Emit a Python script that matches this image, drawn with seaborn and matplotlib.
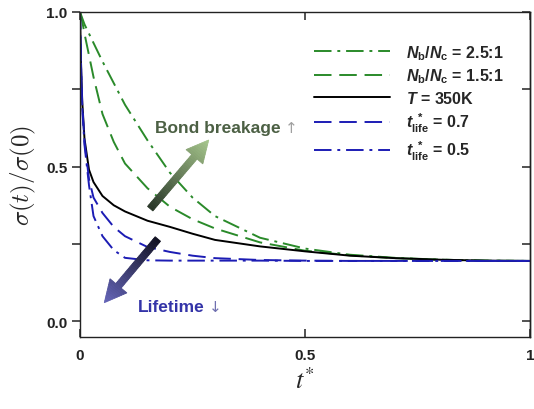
import numpy as np
import pandas as pd
import matplotlib
matplotlib.use("Agg")
import matplotlib.pyplot as plt
import seaborn as sns
from matplotlib.patches import Polygon
from matplotlib.transforms import IdentityTransform
from matplotlib.font_manager import FontProperties
from matplotlib.lines import Line2D

# ---------------- data ----------------
t_star = [0, 0.0025, 0.005, 0.01, 0.02, 0.03, 0.05, 0.075, 0.1, 0.15,
          0.2, 0.25, 0.3, 0.4, 0.5, 0.6, 0.7, 0.8, 0.9, 1.0]
ratio_25 = [1.0, 0.99, 0.98, 0.96, 0.93, 0.90, 0.84, 0.77, 0.70, 0.585,
            0.48, 0.40, 0.34, 0.27, 0.235, 0.215, 0.205, 0.199, 0.196, 0.195]
ratio_15 = [1.0, 0.985, 0.97, 0.93, 0.86, 0.79, 0.67, 0.58, 0.51, 0.43,
            0.37, 0.33, 0.30, 0.255, 0.228, 0.213, 0.204, 0.199, 0.196, 0.195]
temp_350 = [1.0, 0.82, 0.71, 0.59, 0.49, 0.45, 0.405, 0.375, 0.355, 0.325,
            0.305, 0.283, 0.263, 0.242, 0.226, 0.212, 0.204, 0.199, 0.196, 0.195]
life_07 = [1.0, 0.82, 0.70, 0.58, 0.46, 0.40, 0.35, 0.305, 0.275, 0.24,
           0.224, 0.212, 0.204, 0.198, 0.196, 0.195, 0.195, 0.195, 0.195, 0.195]
life_05 = [1.0, 0.81, 0.69, 0.57, 0.44, 0.34, 0.275, 0.23, 0.205, 0.197,
           0.196, 0.196, 0.196, 0.196, 0.195, 0.195, 0.195, 0.195, 0.195, 0.195]

labels = [r"$N_\mathrm{b}/N_\mathrm{c}$ = 2.5:1",
          r"$N_\mathrm{b}/N_\mathrm{c}$ = 1.5:1",
          r"$T$ = 350K",
          r"$t_\mathrm{life}^{\ *}$ = 0.7",
          r"$t_\mathrm{life}^{\ *}$ = 0.5"]

GREEN = "#2a8a2a"
BLUE = "#1c1cb4"
series = [
    (ratio_25, GREEN, (0, (9, 3, 1.5, 3))),
    (ratio_15, GREEN, (0, (9, 4))),
    (temp_350, "black", "-"),
    (life_07, BLUE, (0, (9, 4))),
    (life_05, BLUE, (0, (9, 3, 1.5, 3))),
]

# ---------------- style ----------------
sns.set_style("ticks")
plt.rcParams["font.family"] = ["Liberation Sans", "DejaVu Sans"]
plt.rcParams["mathtext.fontset"] = "custom"
plt.rcParams["mathtext.it"] = "Liberation Sans:italic:bold"
plt.rcParams["mathtext.rm"] = "Liberation Sans:bold"
plt.rcParams["mathtext.bf"] = "Liberation Sans:bold"

fig = plt.figure(figsize=(5.34, 4.10), dpi=100)
ax = fig.add_axes([80 / 534, 1 - 338 / 410, 450 / 534, 325 / 410])

handles = []
for (vals, col, ls), lab in zip(series, labels):
    df = pd.DataFrame({"t": t_star, "s": vals})
    sns.lineplot(data=df, x="t", y="s", ax=ax, color=col, linestyle=ls,
                 linewidth=1.4, sort=False, estimator=None)
    handles.append(Line2D([], [], color=col, linestyle=ls, linewidth=1.4))

ax.set_xlim(0, 1)
ax.set_ylim(-0.051, 1.0)
for sp in ax.spines.values():
    sp.set_color("#222222")
    sp.set_linewidth(1.0)
    sp.set_visible(True)

ax.set_xticks([0, 0.5, 1])
ax.set_xticklabels(["0", "0.5", "1"])
ax.set_yticks([0, 0.25, 0.5, 0.75, 1.0])
ax.set_yticklabels(["0.0", "", "0.5", "", "1.0"])
ax.yaxis.set_tick_params(which="major", direction="out", length=6, width=1.1,
                         left=True, right=False, labelsize=11, pad=3,
                         color="#222222", labelcolor="#222222")
ax.xaxis.set_tick_params(which="major", direction="in", length=6, width=1.1,
                         bottom=True, top=True, labelsize=11, pad=8,
                         color="#222222", labelcolor="#222222")
for lbl in ax.get_xticklabels() + ax.get_yticklabels():
    lbl.set_fontweight("bold")
# right-side inward ticks
ax2 = ax.secondary_yaxis("right")
ax2.set_yticks([0, 0.25, 0.5, 0.75, 1.0])
ax2.tick_params(direction="in", length=6, width=1.1, labelright=False,
                color="#222222")
ax2.spines["right"].set_linewidth(1.0)
ax2.spines["right"].set_color("#222222")

ax.set_xlabel(r"$t^{*}$", fontsize=19, math_fontfamily="stix", labelpad=4)
ax.set_ylabel(r"$\sigma(t)/\sigma(0)$", fontsize=18, math_fontfamily="cm",
              labelpad=6)

leg_prop = FontProperties(family="Liberation Sans", weight="bold", size=11.5,
                          math_fontfamily="custom")
ax.legend(handles, labels, loc="upper right", bbox_to_anchor=(0.963, 0.934),
          frameon=False, prop=leg_prop, handlelength=4.8, handletextpad=1.0,
          labelspacing=0.3, borderaxespad=0.2)

# ---------------- gradient arrows ----------------
fig.canvas.draw()


def grad_arrow(tail, tip, c0, c1, shaft_w=7, head_w=22, head_l=22, n=40):
    p0 = ax.transData.transform(tail)
    p1 = ax.transData.transform(tip)
    d = p1 - p0
    L = np.hypot(*d)
    u = d / L
    nrm = np.array([-u[1], u[0]])
    c0 = np.array(matplotlib.colors.to_rgb(c0))
    c1 = np.array(matplotlib.colors.to_rgb(c1))
    sb = L - head_l
    edges = np.linspace(0, L, n + 1)
    for a, b in zip(edges[:-1], edges[1:]):
        pieces = []
        if a < sb:
            pieces.append((a, min(b, sb), shaft_w / 2, shaft_w / 2))
        if b > sb:
            s0 = max(a, sb)
            h0 = head_w / 2 * (L - s0) / head_l
            h1 = head_w / 2 * (L - b) / head_l
            pieces.append((s0, b, h0, h1))
        col = c0 + (c1 - c0) * ((a + b) / 2 / L)
        for s0, s1, h0, h1 in pieces:
            pts = [p0 + u * s0 - nrm * h0, p0 + u * s1 - nrm * h1,
                   p0 + u * s1 + nrm * h1, p0 + u * s0 + nrm * h0]
            poly = Polygon(pts, closed=True, facecolor=col, edgecolor=col,
                           linewidth=0.6, transform=IdentityTransform(),
                           zorder=5)
            fig.add_artist(poly)


grad_arrow((0.156, 0.364), (0.286, 0.586), "#263426", "#a6c68c")
grad_arrow((0.173, 0.266), (0.054, 0.060), "#101020", "#6464b8")

renderer = fig.canvas.get_renderer()
t1 = ax.text(0.167, 0.628, "Bond breakage", color="#4c6044", fontsize=12.5,
             fontweight="bold", ha="left", va="center")
bb = t1.get_window_extent(renderer)
x_end = ax.transData.inverted().transform((bb.x1 + 4, 0))[0]
ax.text(x_end, 0.628, "\u2191", color="#a0a0a0", fontsize=11,
        ha="left", va="center", family="DejaVu Sans")
t2 = ax.text(0.129, 0.049, "Lifetime", color="#3434a8", fontsize=12.5,
             fontweight="bold", ha="left", va="center")
bb = t2.get_window_extent(renderer)
x_end = ax.transData.inverted().transform((bb.x1 + 4, 0))[0]
ax.text(x_end, 0.049, "\u2193", color="#7070b0", fontsize=11,
        ha="left", va="center", family="DejaVu Sans")

fig.savefig("out.png", dpi=100)
